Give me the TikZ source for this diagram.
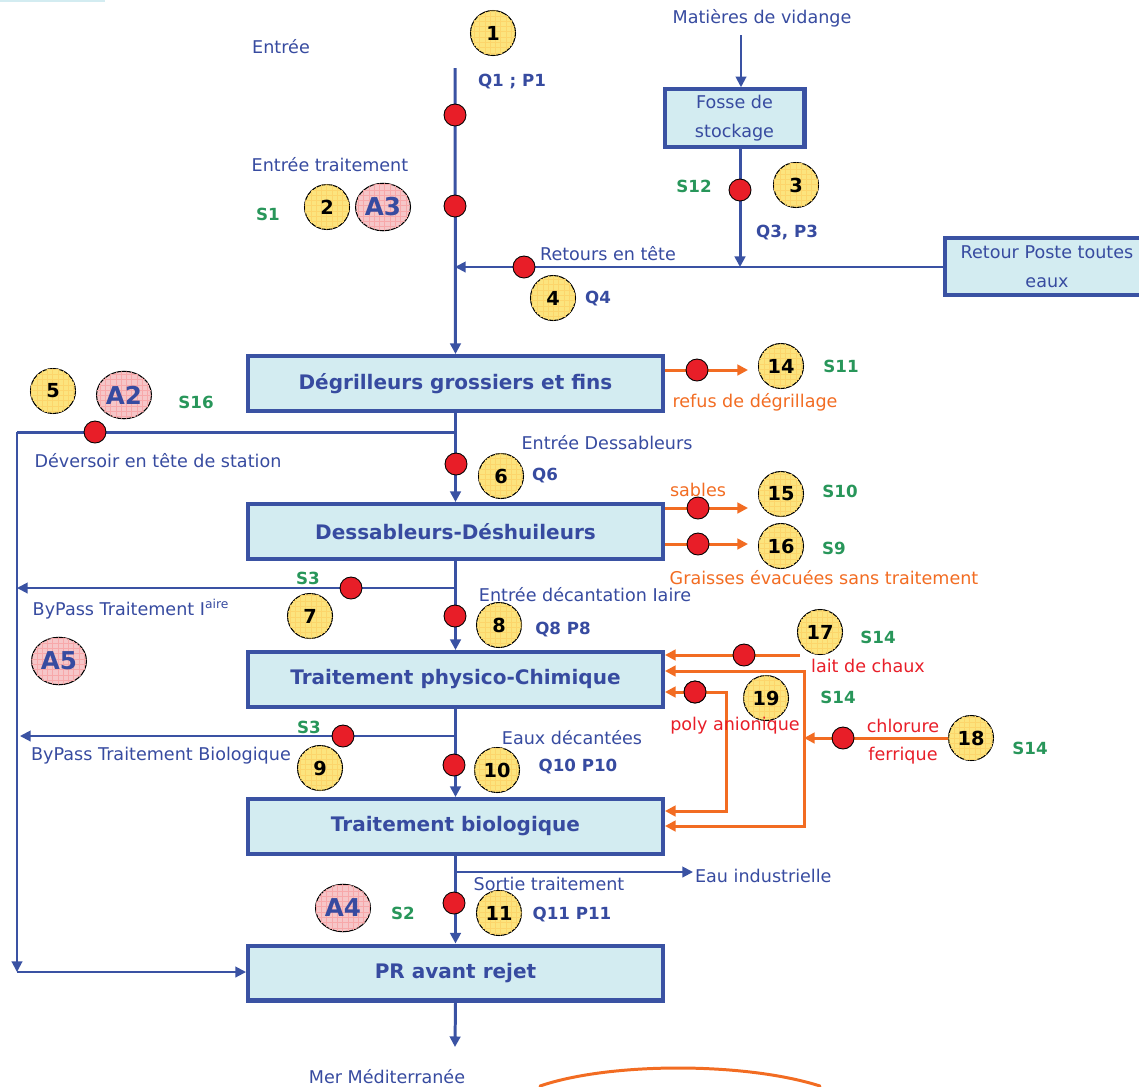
\documentclass[tikz,border=0pt]{standalone}
\usepackage{fontspec}
\setmainfont{DejaVu Sans}
\usetikzlibrary{shapes.geometric,arrows.meta,patterns}

\definecolor{ligne}{RGB}{58,82,163}
\definecolor{texte}{RGB}{55,75,160}
\definecolor{fond}{RGB}{211,236,241}
\definecolor{vert}{RGB}{40,150,90}
\definecolor{orangeF}{RGB}{242,108,34}
\definecolor{rouge}{RGB}{232,30,40}
\definecolor{jaune}{RGB}{252,228,126}
\definecolor{rose}{RGB}{246,198,200}

\tikzset{
  etape/.style={draw=ligne, line width=2.3pt, fill=fond, minimum width=8.3cm, minimum height=1.1cm, text=texte, font=\bfseries\fontsize{11.4}{13}\selectfont},
  boite/.style={draw=ligne, line width=2.3pt, fill=fond, minimum width=2.8cm, minimum height=1.15cm, inner sep=1pt, align=center, text=texte, font=\fontsize{10}{16.5}\selectfont},
  num/.style={circle, draw=black, line width=0.6pt, fill=jaune, postaction={pattern=grid, pattern color=jaune!85!orange}, minimum size=0.9cm, inner sep=0pt, font=\bfseries\fontsize{11}{12}\selectfont},
  alerte/.style={ellipse, draw=black, line width=0.6pt, fill=rose, postaction={pattern=grid, pattern color=rose!85!red}, minimum width=1.1cm, minimum height=0.95cm, inner sep=0pt, text=texte, font=\bfseries\fontsize{14}{15}\selectfont},
  point/.style={circle, draw=black, line width=0.5pt, fill=rouge, minimum size=0.44cm, inner sep=0pt},
  lab/.style={text=texte, inner sep=1pt, font=\fontsize{10}{11}\selectfont},
  labq/.style={text=texte, inner sep=1pt, font=\bfseries\fontsize{9.5}{11}\selectfont},
  labs/.style={text=vert, inner sep=1pt, font=\bfseries\fontsize{9.5}{11}\selectfont},
  labo/.style={text=orangeF, inner sep=1pt, font=\fontsize{10}{11}\selectfont},
  labr/.style={text=rouge, inner sep=1pt, font=\fontsize{10}{11}\selectfont},
  flux/.style={draw=ligne, line width=1.7pt},
  fin/.style={draw=ligne, line width=1.1pt},
  rejet/.style={draw=orangeF, line width=1.7pt},
  tip/.style={-{Triangle[length=6pt,width=6pt]}}
}

\begin{document}
\begin{tikzpicture}[x=0.02cm, y=-0.02cm]
\useasboundingbox (0,0) rectangle (1139,1086);
\draw[fond, line width=2pt] (0,0) -- (105,0);

\node[etape] (deg)  at (455.5,383.5) {Dégrilleurs grossiers et fins};
\node[etape] (des)  at (455.5,531.5) {Dessableurs-Déshuileurs};
\node[etape] (phys) at (455.5,679.5) {Traitement physico-Chimique};
\node[etape] (bio)  at (455.5,826.5) {Traitement biologique};
\node[etape] (pr)   at (455.5,973)   {PR avant rejet};
\node[boite] (fosse)  at (734.5,118) {Fosse de\\stockage};
\node[boite, minimum width=4.1cm] (retour) at (1047,266.5) {Retour Poste toutes\\eaux};

\coordinate (top) at (455,68);
\coordinate (j4)  at (455,267);
\coordinate (j3)  at (740,267);
\coordinate (v1)  at (741,35);
\coordinate (jd)  at (455,432);
\coordinate (cl)  at (17,432);
\coordinate (corner) at (17,972);
\coordinate (jb1) at (455,588);
\coordinate (lb1) at (17,588);
\coordinate (jb2) at (455,736);
\coordinate (lb2) at (20,736);
\coordinate (je)  at (455,872);
\coordinate (mer) at (455,1047);
\coordinate (o14) at (748,370);
\coordinate (o15) at (748,508);
\coordinate (o16) at (748,544);
\coordinate (o17) at (800,655);
\coordinate (c1)  at (804,671);
\coordinate (c2)  at (804,826);
\coordinate (c3)  at (804,738);
\coordinate (o18) at (988,738);
\coordinate (p1)  at (726,692);
\coordinate (p2)  at (726,811);

% lignes bleues
\draw[flux, tip] (top) -- (deg.north);
\draw[fin, tip] (retour.west |- j4) -- (j4);
\draw[fin, tip] (v1) -- (v1 |- fosse.north);
\draw[flux, tip] (fosse.south -| j3) -- (j3);
\draw[flux, tip] (deg.south) -- (des.north);
\draw[flux] (jd) -- (cl);
\draw[fin, tip] (cl) -- (corner);
\draw[fin, tip] (corner) -- (pr.west |- corner);
\draw[flux, tip] (des.south) -- (phys.north);
\draw[fin, tip] (jb1) -- (lb1);
\draw[flux, tip] (phys.south) -- (bio.north);
\draw[fin, tip] (jb2) -- (lb2);
\draw[flux, tip] (bio.south) -- (pr.north);
\draw[flux, tip] (pr.south) -- (mer);

% lignes orange
\draw[rejet, tip] (deg.east |- o14) -- (o14);
\draw[rejet, tip] (des.east |- o15) -- (o15);
\draw[rejet, tip] (des.east |- o16) -- (o16);
\draw[rejet, tip] (o17) -- (phys.east |- o17);
\draw[rejet, {Triangle[length=6pt,width=6pt]}-{Triangle[length=6pt,width=6pt]}] (phys.east |- c1) -- (c1) -- (c2) -- (bio.east |- c2);
\draw[rejet, tip] (o18) -- (c3);
\draw[rejet, line cap=round] (540,1086) .. controls (610,1062) and (745,1062) .. (820,1086);

\node[point] (d19) at (695,692) {};
\draw[rejet, tip] (d19) -- (phys.east |- d19);
\draw[rejet, tip] (d19) -- (p1) -- (p2) -- (bio.east |- p2);
\node[point] (d19) at (695,692) {};

\node[lab, anchor=west] (eind) at (693,876) {Eau industrielle};
\draw[fin, tip] (je) -- (je -| eind.west);

% points de mesure
\node[point] (d1)  at (455,115) {};
\node[point] (d2)  at (455,206) {};
\node[point] (d3)  at (740,190) {};
\node[point] (d4)  at (524,267) {};
\node[point] (d14) at (697,370) {};
\node[point] (d5)  at (95,432) {};
\node[point] (d6)  at (456,464) {};
\node[point] (d15) at (698,508) {};
\node[point] (d16) at (698,544) {};
\node[point] (d7)  at (351,588) {};
\node[point] (d8)  at (455,616) {};
\node[point] (d17) at (744,655) {};
\node[point] (d18) at (843,738) {};
\node[point] (d9)  at (343,736) {};
\node[point] (d10) at (454,765) {};
\node[point] (d11) at (454,903) {};

% numeros
\node[num] (1)  at (493,33)  {1};
\node[num] (2)  at (327,207) {2};
\node[num] (3)  at (796,185) {3};
\node[num] (4)  at (553,298) {4};
\node[num] (5)  at (53,391)  {5};
\node[num] (6)  at (501,476) {6};
\node[num] (7)  at (310,616) {7};
\node[num] (8)  at (499,625) {8};
\node[num] (9)  at (320,768) {9};
\node[num] (10) at (497,770) {10};
\node[num] (11) at (499,913) {11};
\node[num] (14) at (781,366) {14};
\node[num] (15) at (781,494) {15};
\node[num] (16) at (781,546) {16};
\node[num] (17) at (820,632) {17};
\node[num] (18) at (971,738) {18};
\node[num] (19) at (766,698) {19};

\node[alerte] (A3) at (383,207) {A3};
\node[alerte] (A2) at (124,395) {A2};
\node[alerte] (A5) at (59,661)  {A5};
\node[alerte] (A4) at (343,908) {A4};

% textes
\node[lab] at (762,18)  {Matières de vidange};
\node[lab] at (281,47)  {Entrée};
\node[labq] at (512,82) {Q1 ; P1};
\node[lab] at (330,165) {Entrée traitement};
\node[lab] at (608,254) {Retours en tête};
\node[labq] at (787,233) {Q3, P3};
\node[labq] at (598,299) {Q4};
\node[labo] at (755,402) {refus de dégrillage};
\node[lab] at (158,461) {Déversoir en tête de station};
\node[lab] at (607,443) {Entrée Dessableurs};
\node[labq] at (545,476) {Q6};
\node[labo] at (698,490) {sables};
\node[labo] at (824,578) {Graisses évacuées sans traitement};
\node[lab] at (131,609) {ByPass Traitement I\textsuperscript{aire}};
\node[lab] at (585,595) {Entrée décantation Iaire};
\node[labq] at (563,630) {Q8 P8};
\node[labr] at (868,666) {lait de chaux};
\node[labr] at (735,726) {poly anionique};
\node[labr] at (903,726) {chlorure};
\node[labr] at (903,756) {ferrique};
\node[lab] at (572,738) {Eaux décantées};
\node[lab] at (161,756) {ByPass Traitement Biologique};
\node[labq] at (578,767) {Q10 P10};
\node[lab] at (549,884) {Sortie traitement};
\node[labq] at (572,915) {Q11 P11};
\node[lab] at (387,1077) {Mer Méditerranée};

\node[labs] at (268,214) {S1};
\node[labs] at (694,186) {S12};
\node[labs] at (841,366) {S11};
\node[labs] at (196,402) {S16};
\node[labs] at (840,491) {S10};
\node[labs] at (834,548) {S9};
\node[labs] at (308,578) {S3};
\node[labs] at (309,727) {S3};
\node[labs] at (878,637) {S14};
\node[labs] at (838,697) {S14};
\node[labs] at (1030,748) {S14};
\node[labs] at (403,913) {S2};
\end{tikzpicture}
\end{document}
